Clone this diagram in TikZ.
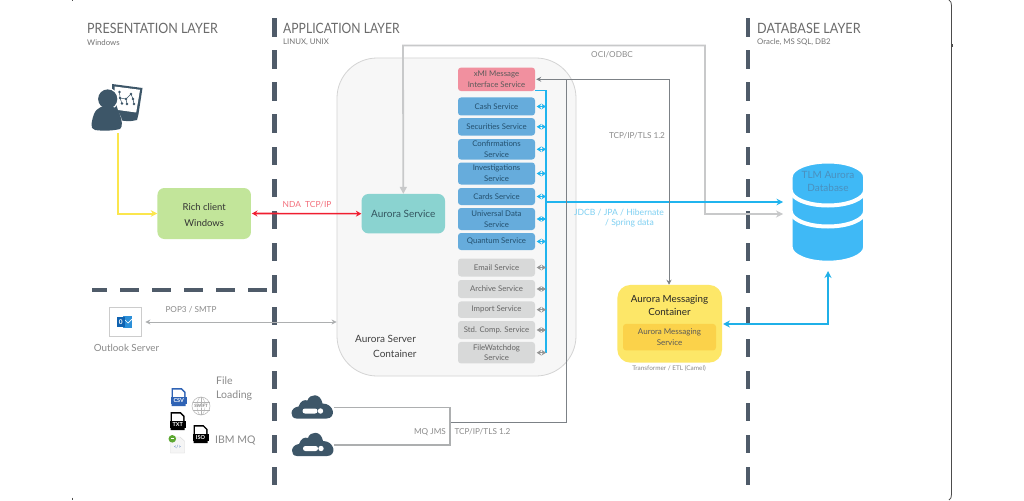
\documentclass[tikz,border=0pt]{standalone}
\usepackage{graphicx}
\usepackage{fontspec}
\setmainfont{Lato}
\usetikzlibrary{arrows.meta,shapes.geometric,calc}
\definecolor{dashc}{HTML}{4F5B69}
\definecolor{iconc}{HTML}{3D5668}
\definecolor{labelc}{HTML}{8A8A8A}
\definecolor{blueb}{HTML}{66ACDC}
\definecolor{greyb}{HTML}{D8D9D9}
\definecolor{busc}{HTML}{20B4EE}
\definecolor{dbc}{HTML}{3FB9F6}
\definecolor{lineg}{HTML}{C8C9CA}
\definecolor{lined}{HTML}{7C8186}
\definecolor{linel}{HTML}{ADAFB0}
\definecolor{pinkb}{HTML}{F1909F}
\definecolor{svctxt}{HTML}{24506E}
\definecolor{tealb}{HTML}{8AD3D0}
\definecolor{tealt}{HTML}{33555F}
\definecolor{greenb}{HTML}{C2E59A}
\definecolor{dbt}{HTML}{4A90BE}
\definecolor{yelb}{HTML}{FDE768}
\definecolor{yeli}{HTML}{FBD24A}
\definecolor{olb}{HTML}{2B8FD8}
\definecolor{old}{HTML}{0F62B0}
\definecolor{csvc}{HTML}{2F63B5}
\definecolor{grnc}{HTML}{5DA832}
\definecolor{yell}{HTML}{FBE64E}
\definecolor{redl}{HTML}{F01E30}
\definecolor{thick}{HTML}{1FB0E8}
\definecolor{lblb}{HTML}{7FD0F2}
\definecolor{lblr}{HTML}{F3707C}
\newcommand{\fsz}[2]{\fontsize{#1}{#2}\selectfont}
\newcommand{\nar}[2]{\scalebox{#1}[1]{#2}}
\tikzset{
  x=1pt,y=-1pt,
  svcbase/.style={rounded corners=3pt,inner sep=0pt,align=center,minimum width=77pt,font=\fsz{7.8}{10.8}},
  svcblue/.style={svcbase,fill=blueb,text=svctxt},
  svcgrey/.style={svcbase,fill=greyb,text=black!60},
  svcpink/.style={svcbase,fill=pinkb,text=black!65},
  lbl/.style={inner sep=0pt,text=labelc,align=center},
  layerhead/.style={inner sep=0pt,anchor=west,text=black!58,font=\fsz{14.2}{16}},
  layersub/.style={inner sep=0pt,anchor=west,text=black!55,font=\fsz{7.8}{10}},
  dashbar/.style={draw=none,fill=dashc},
  busarrow/.style={draw=busc,line width=1.2pt,{Stealth[length=4.5pt,width=5.5pt]}-{Stealth[length=4.5pt,width=5.5pt]}},
  greyarrow/.style={draw=black!42,line width=1.1pt,{Stealth[length=4.5pt,width=5.5pt]}-{Stealth[length=4.5pt,width=5.5pt]}},
  tiponly/.style={-{Stealth[length=6.5pt,width=6.5pt]}},
}
\newcommand{\docicon}[5]{% x y fill band label
  \begin{scope}[shift={(#1,#2)}]
    \fill[#3] (-7,-9) -- (3,-9) -- (7,-5) -- (7,9) -- (-7,9) -- cycle;
    \fill[white] (-5.5,-7.5) -- (2.3,-7.5) -- (5.5,-4.3) -- (5.5,0) -- (-5.5,0) -- cycle;
    \fill[#4] (-8,0) rectangle (8,7);
    \node[inner sep=0pt,text=white,font=\bfseries\fsz{5.5}{6}] at (0,3.6) {#5};
  \end{scope}}
\newcommand{\cloudicon}[2]{%
  \begin{scope}[shift={(#1,#2)}]
    \fill[iconc] (-16,12) .. controls (-23,12) and (-23,1) .. (-14,0)
      .. controls (-12,-6) and (-8,-7) .. (-5,-6)
      .. controls (-3,-13) and (8,-14) .. (10,-3)
      .. controls (22,-3) and (24,12) .. (14,12) -- cycle;
    \fill[white,rounded corners=2.4pt] (-10,2) rectangle (5,7);
    \fill[white] (8,4.5) circle (2.7);
  \end{scope}}
\newcommand{\dbdisk}[2]{%
  \filldraw[fill=dbc,draw=white,line width=4pt]
    (790.7,#1) -- (790.7,#2) arc[start angle=180,end angle=360,x radius=37.2pt,y radius=15.5pt]
    -- (865.1,#1) arc[start angle=0,end angle=180,x radius=37.2pt,y radius=15.5pt] -- cycle;}
\begin{document}
\begin{tikzpicture}
\useasboundingbox (0,0) rectangle (1024,500);
\fill[white] (0,0) rectangle (1024,500);

% outer frame remains
\draw[black!70,line width=.8pt] (949,0) .. controls (951,1) and (951.5,3) .. (951.5,6) -- (951.5,494) .. controls (951.5,497) and (951,499) .. (949,500);
\draw[black!70,line width=.6pt] (72,0) -- (72,1.5);
\draw[black!70,line width=.6pt] (72,497.5) -- (72,500);
\draw[black!70,line width=.6pt] (951.5,44) -- (952.6,44) -- (952.6,46) -- (951.5,46);

% layer dashes
\foreach \k in {0,...,14}{
  \fill[dashbar] (272.3,18.5+32*\k) rectangle (276.8,37+32*\k);
  \fill[dashbar] (745.5,18.5+32*\k) rectangle (750,37+32*\k);
}
\fill[dashbar] (92,287.6) rectangle (107,292);
\foreach \k in {0,...,4}{\fill[dashbar] (120+32*\k,287.6) rectangle (139+32*\k,292);}

% headers
\node[layerhead] (hp) at (87,28) {\nar{.88}{PRESENTATION LAYER}};
\node[layersub] (sp) at (87,42.5) {Windows};
\node[layerhead] (ha) at (283,28) {\nar{.855}{APPLICATION LAYER}};
\node[layersub] (sa) at (283,42.5) {LINUX, UNIX};
\node[layerhead] (hd) at (757,28) {\nar{.89}{DATABASE LAYER}};
\node[layersub] (sd) at (757,42.5) {Oracle, MS SQL, DB2};

% server container
\node[draw=black!17,fill=black!3,line width=.8pt,rounded corners=40pt,minimum width=239pt,minimum height=318pt,inner sep=0pt] (server) at (456.5,217) {};
\node[inner sep=0pt,anchor=west,text=black!75,font=\fsz{10}{12}] (st1) at (355,339) {Aurora Server};
\node[inner sep=0pt,anchor=west,text=black!75,font=\fsz{10}{12}] (st2) at (373,354) {Container};

% services
\node[svcpink,minimum height=23.5pt] (xmi) at (496.5,79.3) {xMI Message\\Interface Service};
\node[svcblue,minimum height=18pt] (cash) at (496.5,106.5) {Cash Service};
\node[svcblue,minimum height=17.5pt] (sec) at (496.5,126.8) {Securities Service};
\node[svcblue,minimum height=20.5pt] (conf) at (496.5,149.3) {Confirmations\\Service};
\node[svcblue,minimum height=22pt] (inv) at (496.5,173.5) {Investigations\\Service};
\node[svcblue,minimum height=17pt] (cards) at (496.5,196.5) {Cards Service};
\node[svcblue,minimum height=22pt] (univ) at (496.5,219) {Universal Data\\Service};
\node[svcblue,minimum height=17pt] (quant) at (496.5,241.5) {Quantum Service};
\node[svcgrey,minimum height=18pt] (email) at (496.5,267.5) {Email Service};
\node[svcgrey,minimum height=18pt] (arch) at (496.5,289) {Archive Service};
\node[svcgrey,minimum height=16.5pt] (imp) at (496.5,309.7) {Import Service};
\node[svcgrey,minimum height=18pt] (std) at (496.5,330) {Std. Comp. Service};
\node[svcgrey,minimum height=21.5pt] (fw) at (496.5,352.7) {FileWatchdog\\Service};

% Bus
\coordinate (bustop) at (546,90.5);
\coordinate (busbot) at (546,352.7);
\draw[busc,line width=1.4pt] (xmi.south east |- bustop) -- (bustop) -- (busbot);
\foreach \s in {cash,sec,conf,inv,cards,univ,quant}{
  \draw[busarrow] ($(\s.east)+(1.5,0)$) -- (\s.east -| bustop);
}
\foreach \s in {email,arch,imp,std,fw}{
  \draw[greyarrow] ($(\s.east)+(1.5,0)$) -- (\s.east -| bustop);
}

% Nodes
\node[fill=tealb,rounded corners=7pt,minimum width=83.5pt,minimum height=39.5pt,inner sep=0pt,text=tealt,font=\fsz{10}{12}] (as) at (403.3,213.7) {Aurora Service};
\node[fill=greenb,rounded corners=7pt,minimum width=93.5pt,minimum height=51pt,inner sep=0pt] (rich) at (204.2,213.5) {};
\node[inner sep=0pt,align=center,text=black!80,font=\fsz{9.5}{16}] (richt) at (204.2,215) {Rich client\\Windows};

\coordinate (dbtip) at (828,271);
\coordinate (dbin1) at (783,202);
\coordinate (dbin2) at (783,214);

% Database
\dbdisk{212}{247.2}
\dbdisk{190}{211}
\dbdisk{177}{190}
\node[inner sep=0pt,align=center,text=dbt,font=\fsz{10}{13}] (db) at (828,181) {TLM Aurora\\Database};

% Messaging
\node[fill=yelb,rounded corners=13pt,minimum width=104.7pt,minimum height=77.7pt,inner sep=0pt] (msg) at (669.7,323.8) {};
\node[inner sep=0pt,align=center,text=black!85,font=\fsz{9.8}{13}] (msgt) at (669.5,305.5) {Aurora Messaging\\Container};
\node[fill=yeli,rounded corners=3pt,minimum width=93pt,minimum height=26.5pt,inner sep=0pt,align=center,text=black!65,font=\fsz{8}{11}] (msgs) at (669.5,337.2) {Aurora Messaging\\Service};
\node[lbl,font=\fsz{6.4}{8}] (trans) at (669,368.3) {Transformer / ETL (Camel)};

% person
\begin{scope}
  \fill[iconc] (112,84) -- (142.5,88) -- (138.5,114) -- (137,120) .. controls (130,122) and (124,121) .. (119,120) -- (112,100) -- cycle;
  \fill[white] (114.5,86.5) -- (140,89.8) -- (136.2,112.5) -- (118,110) -- (115,100) -- cycle;
  \foreach \p/\q in {119.5/92,131/94,133/99,126/99,120/98,127/104,122/103.5,134/104}{\fill[iconc] (\p,\q) circle (1.4);}
  \draw[iconc,line width=.5pt] (119.5,92)--(120,98)--(122,103.5) (131,94)--(126,99)--(127,104) (131,94)--(133,99)--(134,104) (120,98)--(126,99);
  \fill[white] (107.7,99) circle (11);
  \fill[white] (91,131) .. controls (89,120) and (97,105) .. (107,105) .. controls (117,105) and (125,120) .. (122.5,131) -- cycle;
  \fill[iconc] (107.7,99) circle (9.6);
  \fill[iconc] (95,130) .. controls (89,129) and (92,120) .. (94,114) .. controls (97,107) and (103,106) .. (108,106) .. controls (114,106) and (119,109) .. (120,115) .. controls (122,120) and (123,127) .. (120,129) .. controls (112,131) and (102,131) .. (95,130) -- cycle;
\end{scope}
\coordinate (person) at (118,133);

% Outlook
\node[draw=black!20,fill=white,line width=.8pt,minimum width=32pt,minimum height=29pt,inner sep=0pt] (ol) at (125,322) {};
\fill[olb] (123,316) rectangle (132,328);
\draw[white,line width=.7pt] (124,319) -- (128,323) -- (132,319);
\fill[old] (116.7,317) rectangle (125,327);
\node[inner sep=0pt,text=white,font=\bfseries\fsz{6.5}{7}] (olo) at (120.8,322) {0};
\node[lbl,font=\fsz{9.8}{12}] (olt) at (126.5,347.5) {Outlook Server};

% Small icons
\docicon{178.7}{397}{csvc}{csvc}{CSV}
\docicon{177.7}{421}{black}{black}{TXT}
\docicon{200.5}{434}{black}{black}{ISO}
\fill[black!4,draw=black!15,line width=.4pt] (170.5,437) -- (180,437) -- (184.5,441) -- (184.5,453) -- (170.5,453) -- cycle;
\node[inner sep=0pt,text=csvc,font=\fsz{4.5}{5}] (xmlt) at (177.5,447) {</>};
\fill[grnc] (172.3,438.8) circle (3.8);
\fill[white] (170.5,438.3) rectangle (174,439.3);
\draw[black!30,line width=.5pt] (201,406) circle (9);
\draw[black!30,line width=.4pt] (201,406) ellipse (4 and 9);
\draw[black!30,line width=.4pt] (192.5,402) -- (209.5,402) (192.5,410) -- (209.5,410) (201,397) -- (201,415);
\node[inner sep=0pt,fill=white,fill opacity=.6,text opacity=1,text=black!50,font=\bfseries\fsz{4.4}{5}] (swift) at (201,406) {SWIFT};
\node[lbl,anchor=west,font=\fsz{10.5}{13.5},align=left] (fl) at (216,388.7) {File\\Loading};
\node[lbl,anchor=west,font=\fsz{10.5}{13}] (mq) at (215,440) {IBM MQ};

% Clouds
\coordinate (c1) at (334,407.3);
\coordinate (c2) at (334,445);
\coordinate (jc) at (450,422.3);
\coordinate (trk) at (566.7,422.3);
\coordinate (trt) at (566.7,79.3);
\coordinate (trr) at (669,79.3);
\cloudicon{312.5}{406.5}
\cloudicon{313}{444}

% Connectors
\draw[draw=yell,line width=2pt,tiponly] (person) |- (rich.west);
\draw[draw=redl,line width=1.6pt,{Stealth[length=5.5pt,width=6pt]}-{Stealth[length=5.5pt,width=6pt]}] ([xshift=.8pt]rich.east) -- (as.west);
\coordinate (oci1) at (403,45.5);
\coordinate (oci2) at (705,45.5);
\coordinate (oci3) at (705,214);
\draw[draw=lineg,line width=1.8pt,-{Stealth[length=7pt,width=7pt]}] ($(as.north)+(0,-5)$) -- (oci1) -- (oci2) -- (oci3) -- (dbin2);
\fill[lineg] (as.north) -- ++(-3.8,-7) -- ++(7.6,0) -- cycle;
\draw[draw=busc,line width=2pt,tiponly] (bustop |- dbin1) -- (dbin1);
\draw[draw=lined,line width=1pt,{Stealth[length=5pt,width=5pt]}-] ([xshift=1pt]xmi.east) -- (trt);
\draw[draw=lined,line width=1pt,-{Stealth[length=5pt,width=5pt]}] (trt) -- (trr) -- (msg.north -| trr);
\draw[draw=lined,line width=1pt] (trt) -- (trk) -- (jc);
\draw[draw=linel,line width=1.1pt] (c1) -- (c1 -| jc) -- (c2 -| jc) -- (c2);
\coordinate (msgr) at (723,324);
\draw[draw=thick,line width=2.2pt,{Stealth[length=7pt,width=7pt]}-{Stealth[length=7pt,width=7pt]}] (msgr) -| (dbtip);
\draw[draw=linel,line width=.9pt,{Stealth[length=5pt,width=5pt]}-{Stealth[length=5pt,width=5pt]}] ([xshift=4pt]ol.east) -- (ol.east -| server.west);

% Connector labels
\node[lbl,font=\fsz{8.2}{10}] (l1) at (612,54.5) {OCI/ODBC};
\node[lbl,font=\fsz{8.2}{10}] (l2) at (637,136) {TCP/IP/TLS 1.2};
\node[lbl,text=lblb,font=\fsz{8.6}{11}] (l3) at (619,212.7) {JDCB / JPA / Hibernate};
\node[lbl,text=lblb,font=\fsz{8.6}{11}] (l4) at (629.5,223.5) {/ Spring data};
\node[lbl,text=lblr,font=\fsz{8.4}{10}] (l5) at (307,204.5) {NDA\ \ TCP/IP};
\node[lbl,font=\fsz{8.2}{10}] (l6) at (191,310) {POP3 / SMTP};
\node[lbl,font=\fsz{8.2}{10}] (l7) at (430,432) {MQ JMS};
\node[lbl,font=\fsz{8.2}{10}] (l8) at (482.5,432) {TCP/IP/TLS 1.2};
\end{tikzpicture}
\end{document}
